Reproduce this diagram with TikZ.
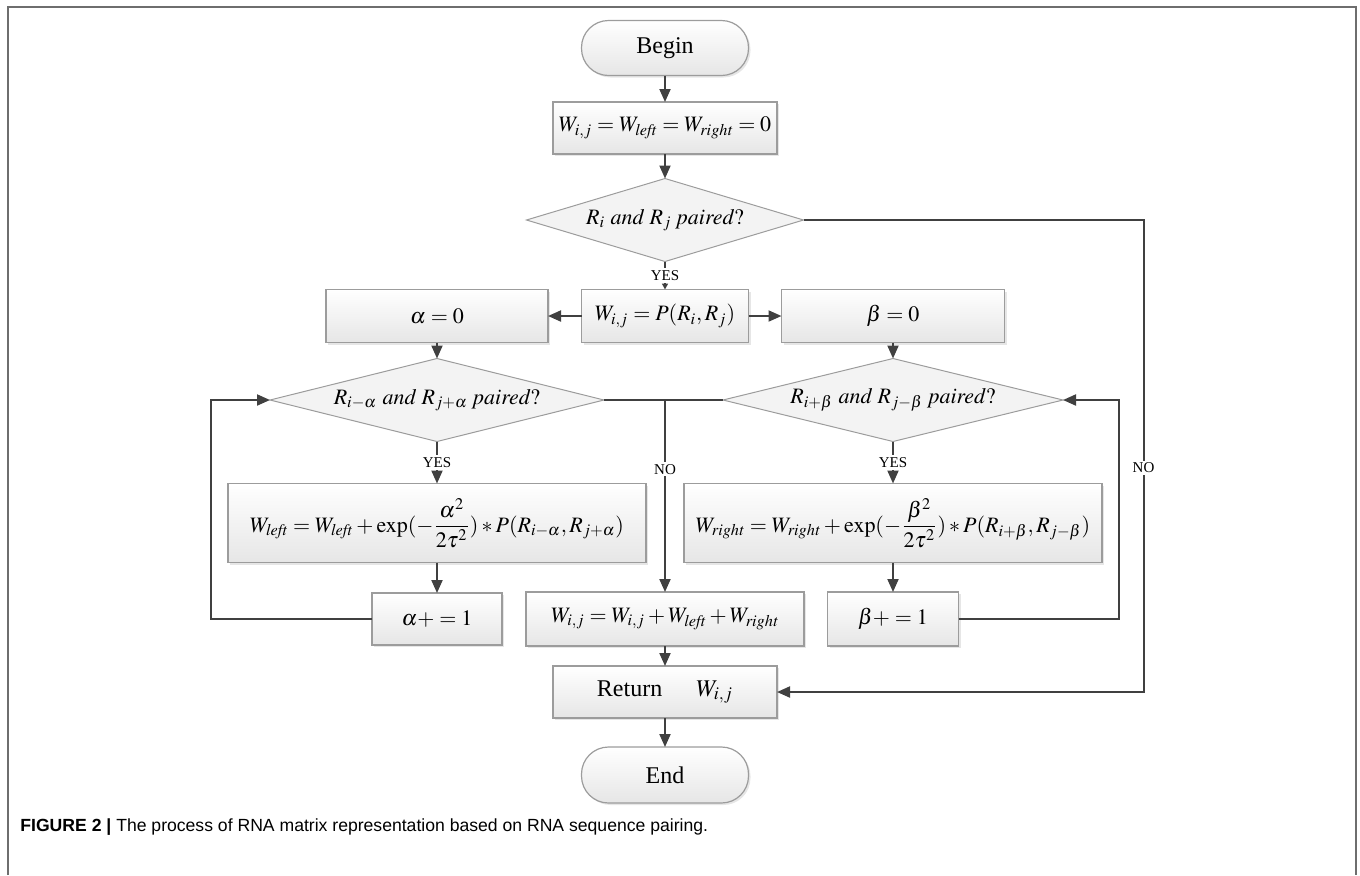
\documentclass[tikz,border=0pt]{standalone}
\usepackage{mathptmx}
\usepackage{fontspec}
\setmainfont{Liberation Serif}
\setsansfont{Liberation Sans}
\usepackage{xcolor}
\usepackage{tikz}
\usetikzlibrary{arrows.meta,shapes.geometric,shadows}

\definecolor{linegray}{HTML}{404040}
\definecolor{boxline}{HTML}{9C9C9C}
\definecolor{boxfill}{HTML}{E6E6E6}
\definecolor{decfill}{HTML}{F3F3F3}
\definecolor{framegray}{HTML}{6E6E6E}

\begin{document}
\begin{tikzpicture}[x=0.5pt, y=-0.5pt,
      box/.style={draw=boxline, line width=0.6pt, top color=white, bottom color=boxfill,
        drop shadow={shadow xshift=1pt, shadow yshift=-1pt, opacity=0.2},
        inner sep=0pt, outer sep=0pt, font=\fontsize{11}{13}\selectfont},
      term/.style={box, rounded corners=13.5pt, font=\fontsize{12}{14}\selectfont},
      dec/.style={diamond, draw=boxline, fill=decfill, line width=0.5pt, aspect=4,
        inner sep=0pt, outer sep=0pt, font=\fontsize{11}{13}\selectfont},
      arr/.style={-{Triangle[length=6.5pt,width=5.5pt]}, line width=1pt, draw=linegray},
      arrsmall/.style={arr, -{Triangle[length=3pt,width=3pt]}},
      conn/.style={line width=1pt, draw=linegray},
      lbl/.style={fill=white, inner sep=1pt, font=\fontsize{7.5}{9}\selectfont},
    ]
    \useasboundingbox (0,0) rectangle (1360,875);
    \draw[framegray, line width=1pt] (7.5,875) -- (7.5,6.5) -- (1356,6.5) -- (1356,875);

    \node[term, minimum width=83.5pt, minimum height=27.5pt] (begin) at (665,48) {Begin};
    \node[box, minimum width=112pt, minimum height=26pt] (init) at (665,128)
      {$W_{i,j}=W_{\mathit{left}}=W_{\mathit{right}}=0$};
    \node[dec, minimum width=138.5pt, minimum height=41.5pt] (q1) at (665,220)
      {$R_{i}\ \mathit{and}\ R_{j}\ \mathit{paired}?$};
    \node[box, minimum width=83.5pt, minimum height=26.5pt] (pw) at (665,316)
      {$W_{i,j}=P(R_{i},R_{j})$};
    \node[box, minimum width=111pt, minimum height=26.5pt] (a0) at (437,316) {$\alpha=0$};
    \node[box, minimum width=111.5pt, minimum height=26.5pt] (b0) at (893,316) {$\beta=0$};
    \node[dec, minimum width=167pt, minimum height=41.5pt] (qa) at (437,400)
      {$R_{i-\alpha}\ \mathit{and}\ R_{j+\alpha}\ \mathit{paired}?$};
    \node[dec, minimum width=170pt, minimum height=41.5pt] (qb) at (893,400)
      {$R_{i+\beta}\ \mathit{and}\ R_{j-\beta}\ \mathit{paired}?$};
    \node[box, minimum width=209pt, minimum height=39.5pt] (wl) at (437,523)
      {$W_{\mathit{left}}=W_{\mathit{left}}+\exp(-{\displaystyle\frac{\alpha^{2}}{2\tau^{2}}})*P(R_{i-\alpha},R_{j+\alpha})$};
    \node[box, minimum width=209pt, minimum height=39.5pt] (wr) at (893,523)
      {$W_{\mathit{right}}=W_{\mathit{right}}+\exp(-{\displaystyle\frac{\beta^{2}}{2\tau^{2}}})*P(R_{i+\beta},R_{j-\beta})$};
    \node[box, minimum width=65pt, minimum height=26pt] (ainc) at (437,619) {$\alpha{+}=1$};
    \node[box, minimum width=139pt, minimum height=27pt] (sum) at (665,619)
      {$W_{i,j}=W_{i,j}+W_{\mathit{left}}+W_{\mathit{right}}$};
    \node[box, minimum width=65.5pt, minimum height=27pt] (binc) at (893,619) {$\beta{+}=1$};
    \node[box, minimum width=112pt, minimum height=26pt, font=\fontsize{12}{14}\selectfont] (ret) at (665,692)
      {Return\hspace{17pt}$W_{i,j}$};
    \node[term, minimum width=83.5pt, minimum height=28pt] (end) at (665,775) {End};

    \coordinate (lx) at (211,0);
    \coordinate (rx) at (1119,0);
    \coordinate (nx) at (1143.5,0);

    \draw[arr] (begin) -- (init);
    \draw[arr] (init) -- (q1);
    \draw[arrsmall] (q1) -- node[lbl] {YES} (pw);
    \draw[arr] (pw) -- (a0);
    \draw[arr] (pw) -- (b0);
    \draw[arr] (a0) -- (qa);
    \draw[arr] (b0) -- (qb);
    \draw[arr] (qa) -- node[lbl] {YES} (wl);
    \draw[arr] (qb) -- node[lbl] {YES} (wr);
    \draw[arr] (wl) -- (ainc);
    \draw[arr] (wr) -- (binc);
    \draw[arr] (ainc.west) -- (ainc.west -| lx) |- (qa.west);
    \draw[arr] (binc.east) -- (binc.east -| rx) |- (qb.east);
    \draw[arr] (qa.east) -| node[lbl, pos=0.68] {NO} (sum.north);
    \draw[conn] (qb.west) -- (qb.west -| sum.north);
    \draw[arr] (sum) -- (ret);
    \draw[arr] (ret) -- (end);
    \draw[arr] (q1.east) -- (q1.east -| nx) -- node[lbl, pos=0.525] {NO} (ret.east -| nx) -- (ret.east);

    \node[anchor=west, inner sep=0pt, font=\sffamily\fontsize{8.8}{10}\selectfont] (caption) at (20,827)
      {\textbf{FIGURE 2 |} The process of RNA matrix representation based on RNA sequence pairing.};
  \end{tikzpicture}
\end{document}
